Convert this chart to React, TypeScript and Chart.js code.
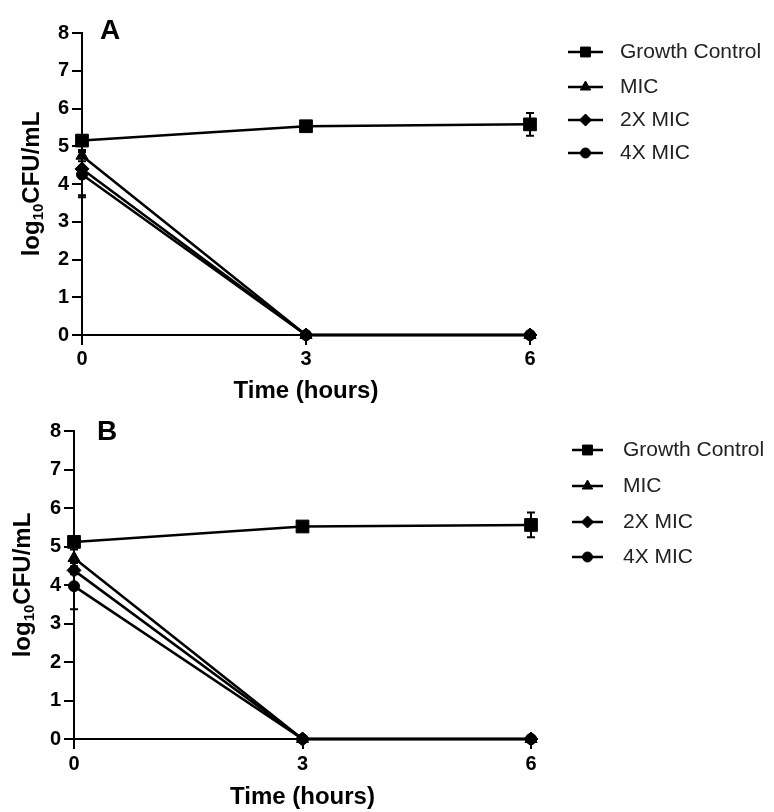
import React, { useEffect, useRef } from 'react';
import { Chart, registerables } from 'chart.js';
import { drawPoint } from 'chart.js/helpers';

Chart.register(...registerables);

// ---------- data ----------
const timeHours = [0, 3, 6];
const xTickValues = [0, 3, 6];
const yTickMin = 0;
const yTickMax = 8;
const seriesNames = ['Growth Control', 'MIC', '2X MIC', '4X MIC'];
const pointStyles = ['rect', 'triangle', 'rectRot', 'circle'];

const panelAGrowth = [5.15, 5.53, 5.58];
const panelAGrowthErr = [0.1, 0.05, 0.3];
const panelAMic = [4.75, 0, 0];
const panelAMicErr = [0.15, 0, 0];
const panelA2xMic = [4.4, 0, 0];
const panelA2xMicErr = [0.7, 0, 0];
const panelA4xMic = [4.25, 0, 0];
const panelA4xMicErr = [0.6, 0, 0];

const panelBGrowth = [5.12, 5.52, 5.56];
const panelBGrowthErr = [0.05, 0.05, 0.32];
const panelBMic = [4.7, 0, 0];
const panelBMicErr = [0.22, 0, 0];
const panelB2xMic = [4.38, 0, 0];
const panelB2xMicErr = [0.1, 0, 0];
const panelB4xMic = [3.97, 0, 0];
const panelB4xMicErr = [0.6, 0, 0];

// ---------- styles ----------
const FONT = '"Liberation Sans", Arial, Helvetica, sans-serif';
const pointRadii = [9, 7, 7, 5.5];
const legendRadii = [7, 6, 6, 5];

type Geo = {
  left: number; right: number; top: number; bottom: number;
  tickPad: number; yTitleX: number; letterX: number; letterY: number;
  legendY: number[]; legendLineX: [number, number]; legendTextX: number;
};

type PanelProps = {
  letter: string;
  values: number[][];
  errors: number[][];
  geo: Geo;
  top: number;
};

const W = 774;
const H = 406;

function Panel({ letter, values, errors, geo, top }: PanelProps) {
  const ref = useRef<HTMLCanvasElement | null>(null);

  useEffect(() => {
    if (!ref.current) return;

    const errorBars = {
      id: 'errorBars',
      beforeDatasetsDraw(chart: any) {
        const ctx = chart.ctx;
        const xs = chart.scales.x;
        const ys = chart.scales.y;
        ctx.save();
        ctx.strokeStyle = '#000';
        ctx.lineWidth = 2;
        errors.forEach((errs, di) => {
          errs.forEach((e, i) => {
            if (!e) return;
            const v = values[di][i];
            const px = xs.getPixelForValue(timeHours[i]);
            const y1 = ys.getPixelForValue(v - e);
            const y2 = ys.getPixelForValue(v + e);
            ctx.beginPath();
            ctx.moveTo(px, y1);
            ctx.lineTo(px, y2);
            ctx.moveTo(px - 4, y1);
            ctx.lineTo(px + 4, y1);
            ctx.moveTo(px - 4, y2);
            ctx.lineTo(px + 4, y2);
            ctx.stroke();
          });
        });
        ctx.restore();
      },
    };

    const decorations = {
      id: 'decorations',
      afterDraw(chart: any) {
        const ctx = chart.ctx;
        const area = chart.chartArea;
        ctx.save();
        // panel letter
        ctx.fillStyle = '#000';
        ctx.font = `bold 28px ${FONT}`;
        ctx.textBaseline = 'middle';
        ctx.textAlign = 'left';
        ctx.fillText(letter, geo.letterX, geo.letterY);

        // y title with subscript
        const cy = (area.top + area.bottom) / 2;
        ctx.translate(geo.yTitleX, cy);
        ctx.rotate(-Math.PI / 2);
        const big = `bold 24px ${FONT}`;
        const small = `bold 15px ${FONT}`;
        ctx.font = big;
        const w1 = ctx.measureText('log').width;
        const w3 = ctx.measureText('CFU/mL').width;
        ctx.font = small;
        const w2 = ctx.measureText('10').width;
        let x = -(w1 + w2 + w3) / 2;
        ctx.textBaseline = 'alphabetic';
        ctx.font = big;
        ctx.fillText('log', x, 8);
        x += w1;
        ctx.font = small;
        ctx.fillText('10', x, 12);
        x += w2;
        ctx.font = big;
        ctx.fillText('CFU/mL', x, 8);
        ctx.restore();

        // legend
        ctx.save();
        seriesNames.forEach((name, i) => {
          const y = geo.legendY[i];
          ctx.strokeStyle = '#000';
          ctx.lineWidth = 2.5;
          ctx.beginPath();
          ctx.moveTo(geo.legendLineX[0], y);
          ctx.lineTo(geo.legendLineX[1], y);
          ctx.stroke();
          ctx.fillStyle = '#000';
          ctx.lineWidth = 1;
          drawPoint(ctx, {
            pointStyle: pointStyles[i] as any,
            radius: legendRadii[i],
            rotation: 0,
            borderWidth: 1,
          } as any, (geo.legendLineX[0] + geo.legendLineX[1]) / 2, y);
          ctx.fillStyle = '#222';
          ctx.font = `21px ${FONT}`;
          ctx.textBaseline = 'middle';
          ctx.textAlign = 'left';
          ctx.fillText(name, geo.legendTextX, y);
        });
        ctx.restore();
      },
    };

    const chart = new Chart(ref.current, {
      type: 'line',
      data: {
        labels: timeHours,
        datasets: seriesNames.map((name, i) => ({
          label: name,
          data: timeHours.map((t, j) => ({ x: t, y: values[i][j] })),
          borderColor: '#000',
          backgroundColor: '#000',
          borderWidth: 2.5,
          pointStyle: pointStyles[i] as any,
          pointRadius: pointRadii[i],
          pointBorderWidth: 1,
          pointBackgroundColor: '#000',
          pointBorderColor: '#000',
          tension: 0,
          clip: false as any,
        })),
      },
      options: {
        responsive: false,
        animation: false,
        events: [],
        layout: {
          padding: { top: geo.top, right: W - geo.right, bottom: 0, left: 0 },
        },
        plugins: {
          legend: { display: false },
          tooltip: { enabled: false },
        },
        scales: {
          x: {
            type: 'linear',
            min: 0,
            max: 6,
            afterFit(scale: any) { scale.height = H - geo.bottom; },
            afterBuildTicks(scale: any) { scale.ticks = xTickValues.map((v) => ({ value: v })); },
            ticks: {
              font: { family: FONT, size: 20, weight: 'bold' },
              color: '#000',
              padding: geo.tickPad,
              maxRotation: 0,
            },
            grid: { drawOnChartArea: false, drawTicks: true, tickLength: 10, lineWidth: 2, color: '#000' },
            border: { display: true, width: 2, color: '#000' },
            title: {
              display: true,
              text: 'Time (hours)',
              font: { family: FONT, size: 24, weight: 'bold' },
              color: '#000',
              padding: { top: 0, bottom: 0 },
            },
          },
          y: {
            type: 'linear',
            min: yTickMin,
            max: yTickMax,
            afterFit(scale: any) { scale.width = geo.left; },
            ticks: {
              stepSize: 1,
              font: { family: FONT, size: 20, weight: 'bold' },
              color: '#000',
              padding: 3,
            },
            grid: { drawOnChartArea: false, drawTicks: true, tickLength: 10, lineWidth: 2, color: '#000' },
            border: { display: true, width: 2, color: '#000' },
          },
        },
      } as any,
      plugins: [errorBars, decorations],
    });

    return () => chart.destroy();
  }, []);

  return (
    <canvas
      ref={ref}
      width={W}
      height={H}
      style={{ position: 'absolute', left: 0, top, width: W, height: H, display: 'block' }}
    />
  );
}

const geoA: Geo = {
  left: 82, right: 530, top: 33, bottom: 335, tickPad: 2,
  yTitleX: 31, letterX: 100, letterY: 31,
  legendY: [52, 87, 120, 153], legendLineX: [568, 603], legendTextX: 620,
};

const geoB: Geo = {
  left: 74, right: 531, top: 25, bottom: 333, tickPad: 3,
  yTitleX: 22, letterX: 97, letterY: 26,
  legendY: [44, 80, 116, 151], legendLineX: [572, 603], legendTextX: 623,
};

export default function App() {
  return (
    <div style={{ position: 'absolute', left: 0, top: 0, width: 774, height: 812, background: '#fff' }}>
      <Panel
        letter="A"
        values={[panelAGrowth, panelAMic, panelA2xMic, panelA4xMic]}
        errors={[panelAGrowthErr, panelAMicErr, panelA2xMicErr, panelA4xMicErr]}
        geo={geoA}
        top={0}
      />
      <Panel
        letter="B"
        values={[panelBGrowth, panelBMic, panelB2xMic, panelB4xMic]}
        errors={[panelBGrowthErr, panelBMicErr, panelB2xMicErr, panelB4xMicErr]}
        geo={geoB}
        top={406}
      />
    </div>
  );
}
